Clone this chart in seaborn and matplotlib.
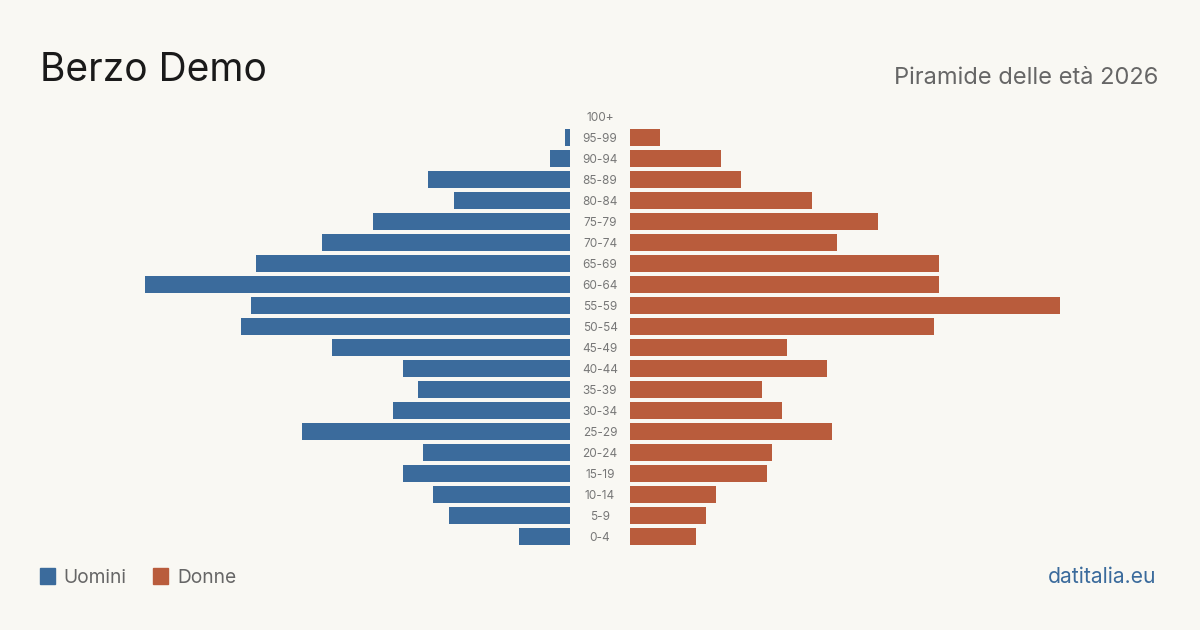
import matplotlib
matplotlib.use("Agg")
import matplotlib.pyplot as plt
import seaborn as sns
import pandas as pd

# =============================================================================
# Dati
# =============================================================================

eta = ['100+', '95-99', '90-94', '85-89', '80-84', '75-79', '70-74', '65-69',
       '60-64', '55-59', '50-54', '45-49', '40-44', '35-39', '30-34', '25-29',
       '20-24', '15-19', '10-14', '5-9', '0-4']
uomini = [0, 1, 4, 28, 23, 39, 49, 62, 84, 63, 65, 47, 33, 30, 35, 53, 29, 33, 27, 24, 10]
donne = [0, 6, 18, 22, 36, 49, 41, 61, 61, 85, 60, 31, 39, 26, 30, 40, 28, 27, 17, 15, 13]

titolo = 'Berzo Demo'
sottotitolo = 'Piramide delle età 2026'
fonte = 'datitalia.eu'

blu = '#3b6b9c'
rosso = '#b95c3c'
sfondo = '#f9f8f3'

df = pd.DataFrame({'eta': eta, 'uomini': uomini, 'donne': donne})

sns.set_style('white')
plt.rcParams['font.family'] = ['Inter', 'DejaVu Sans']

fig = plt.figure(figsize=(12, 6.3), dpi=100)
fig.patch.set_facecolor(sfondo)

# assi: sinistra uomini, destra donne
ax_u = fig.add_axes([140 / 1200, 83 / 630, 430 / 1200, 441 / 630])
ax_d = fig.add_axes([630 / 1200, 83 / 630, 430 / 1200, 441 / 630])

sns.barplot(data=df, y='eta', x='uomini', order=eta, color=blu, width=0.81,
            saturation=1, linewidth=0, ax=ax_u)
sns.barplot(data=df, y='eta', x='donne', order=eta, color=rosso, width=0.81,
            saturation=1, linewidth=0, ax=ax_d)

xmax = 85
ax_u.set_xlim(xmax, 0)
ax_d.set_xlim(0, xmax)

for ax in [ax_u, ax_d]:
    ax.set_ylim(len(eta) - 0.5, -0.5)
    ax.set_facecolor('none')
    ax.set_xticks([])
    ax.set_yticks([])
    ax.set_xlabel('')
    ax.set_ylabel('')
    for s in ax.spines.values():
        s.set_visible(False)

# etichette età al centro
for i, e in enumerate(eta):
    ax_d.text(-30 * xmax / 430, i, e, ha='center', va='center_baseline',
              fontsize=8.5, color='#777777')

# titoli
fig.text(40 / 1200, 1 - 81 / 630, titolo, fontsize=28, color='#1a1a1a',
         ha='left', va='baseline')
fig.text(1158 / 1200, 1 - 84 / 630, sottotitolo, fontsize=17, color='#666666',
         ha='right', va='baseline')

# legenda
fig.patches.append(plt.Rectangle((40 / 1200, 1 - 584 / 630), 15 / 1200, 16 / 630,
                                 color=blu, transform=fig.transFigure))
fig.text(63 / 1200, 1 - 583 / 630, 'Uomini', fontsize=13.8, color='#666666',
         ha='left', va='baseline')
fig.patches.append(plt.Rectangle((153 / 1200, 1 - 584 / 630), 15 / 1200, 16 / 630,
                                 color=rosso, transform=fig.transFigure))
fig.text(177 / 1200, 1 - 583 / 630, 'Donne', fontsize=13.8, color='#666666',
         ha='left', va='baseline')

fig.text(1156 / 1200, 1 - 583 / 630, fonte, fontsize=15.2, color=blu,
         ha='right', va='baseline')

fig.savefig('out.png', dpi=100, facecolor=sfondo)
